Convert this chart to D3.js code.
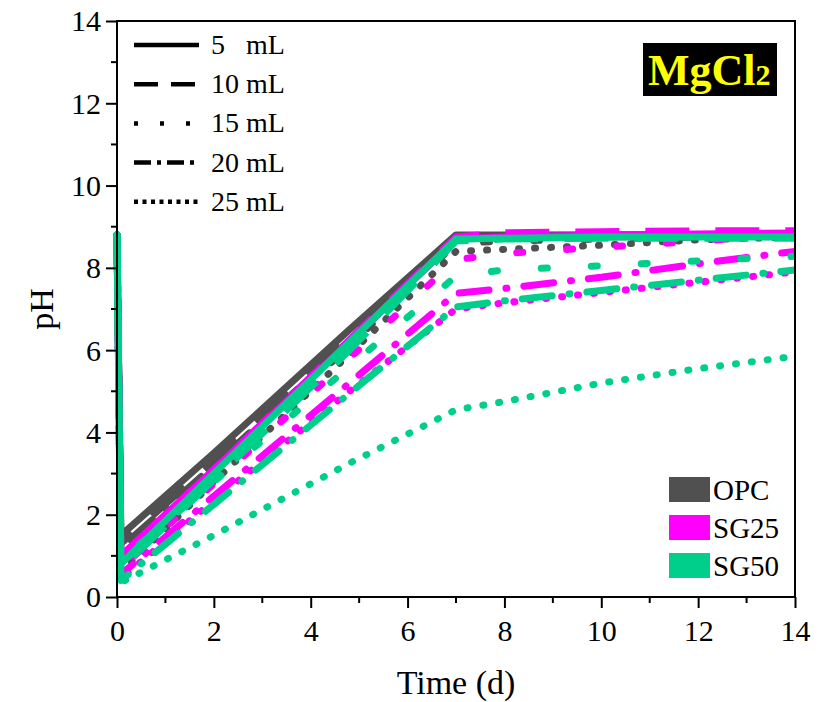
<!DOCTYPE html>
<html>
<head>
<meta charset="utf-8">
<script src="https://cdn.jsdelivr.net/npm/d3@7"></script>
<style>
  html, body { margin: 0; padding: 0; background: #fff; }
  svg { display: block; }
  text { font-family: "Liberation Serif", "Times New Roman", serif; fill: #000; }
</style>
</head>
<body>
<svg id="chart" width="825" height="702"></svg>
<script>
// Sampling times (days)
const times = [0, 0.08, 2, 4.8, 7, 8, 10, 12, 14];

// Binder types and solution volumes
const binders = ["OPC", "SG25", "SG50"];
const volumes = ["5   mL", "10 mL", "15 mL", "20 mL", "25 mL"];

// pH readings per binder, one row per volume (5, 10, 15, 20, 25 mL)
const phOPC = [
  [8.8, 1.5, 3.5, 6.5, 8.8, 8.8, 8.8, 8.8, 8.8],
  [8.8, 1.3, 3.3, 6.3, 8.75, 8.78, 8.8, 8.8, 8.8],
  [8.8, 1.1, 3.1, 6.1, 8.6, 8.65, 8.7, 8.75, 8.8],
  [8.8, 1.2, 3.2, 6.2, 8.7, 8.72, 8.75, 8.78, 8.8],
  [8.8, 0.6, 2.8, 5.9, 8.4, 8.45, 8.55, 8.68, 8.75]
];
const phSG25 = [
  [8.8, 1.0, 3.1, 6.2, 8.7, 8.75, 8.8, 8.82, 8.85],
  [8.8, 0.9, 3.1, 6.25, 8.75, 8.85, 8.88, 8.9, 8.9],
  [8.8, 0.7, 2.75, 5.8, 8.2, 8.35, 8.5, 8.65, 8.8],
  [8.8, 0.55, 2.45, 5.2, 7.38, 7.5, 7.77, 8.1, 8.4],
  [8.8, 0.45, 2.35, 5.0, 7.0, 7.15, 7.4, 7.65, 7.9]
];
const phSG50 = [
  [8.8, 0.8, 3.0, 6.2, 8.7, 8.72, 8.75, 8.75, 8.75],
  [8.8, 0.7, 2.85, 6.0, 8.65, 8.7, 8.72, 8.72, 8.72],
  [8.8, 0.9, 2.8, 5.6, 7.8, 7.95, 8.05, 8.17, 8.28],
  [8.8, 0.4, 2.25, 4.95, 7.05, 7.2, 7.45, 7.7, 7.95],
  [8.8, 0.35, 1.5, 3.25, 4.55, 4.75, 5.2, 5.55, 5.85]
];

const xTicks = [0, 2, 4, 6, 8, 10, 12, 14];
const yTicks = [0, 2, 4, 6, 8, 10, 12, 14];

// Styling
const colors = { OPC: "#505050", SG25: "#ff00ff", SG50: "#00cf8c" };
const dashStyles = [
  { dash: null, cap: "butt" },
  { dash: "44,26", cap: "butt" },
  { dash: "6,44", cap: "round" },
  { dash: "30,17,1,17", cap: "round" },
  { dash: "1,15", cap: "round" }
];
const legendDashStyles = [null, "24,13", "4,22", "17,6,4,6", "4,4.5"];

const svg = d3.select("#chart");
const W = 825, H = 702;
const margin = { left: 117, top: 21, right: 30, bottom: 105 };
const innerW = W - margin.left - margin.right;
const innerH = H - margin.top - margin.bottom;

const x = d3.scaleLinear().domain([0, 14]).range([margin.left, margin.left + innerW]);
const y = d3.scaleLinear().domain([0, 14]).range([margin.top + innerH, margin.top]);

svg.append("clipPath").attr("id", "plotclip")
  .append("rect")
  .attr("x", margin.left - 4).attr("y", margin.top)
  .attr("width", innerW + 4).attr("height", innerH);

// Data lines: grey first, then magenta, green on top
const line = d3.line().x((d, i) => x(times[i])).y(d => y(d));
const seriesSets = [["OPC", phOPC], ["SG25", phSG25], ["SG50", phSG50]];
const gLines = svg.append("g").attr("clip-path", "url(#plotclip)");
seriesSets.forEach(([name, rows]) => {
  rows.forEach((vals, k) => {
    const st = dashStyles[k];
    gLines.append("path")
      .datum(vals)
      .attr("d", line)
      .attr("fill", "none")
      .attr("stroke", colors[name])
      .attr("stroke-width", 7)
      .attr("stroke-linejoin", "round")
      .attr("stroke-linecap", st.cap)
      .attr("stroke-dasharray", st.dash);
  });
});

// Axes
const xAxis = d3.axisBottom(x).tickValues(xTicks).tickSize(11).tickPadding(6).tickFormat(d3.format("d"));
const yAxis = d3.axisLeft(y).tickValues(yTicks).tickSize(11).tickPadding(5).tickFormat(d3.format("d"));

const gx = svg.append("g").attr("transform", `translate(0,${margin.top + innerH})`).call(xAxis);
const gy = svg.append("g").attr("transform", `translate(${margin.left},0)`).call(yAxis);

// Minor ticks
const minorX = d3.range(1, 14, 2);
const minorY = d3.range(1, 14, 2);
gx.selectAll(".minor").data(minorX).enter().append("line")
  .attr("x1", d => x(d)).attr("x2", d => x(d)).attr("y1", 0).attr("y2", 6)
  .attr("stroke", "#000").attr("stroke-width", 2);
gy.selectAll(".minor").data(minorY).enter().append("line")
  .attr("y1", d => y(d)).attr("y2", d => y(d)).attr("x1", 0).attr("x2", -6)
  .attr("stroke", "#000").attr("stroke-width", 2);

[gx, gy].forEach(g => {
  g.select(".domain").remove();
  g.selectAll(".tick line").attr("stroke", "#000").attr("stroke-width", 2);
  g.selectAll(".tick text")
    .style("font-family", "'Liberation Serif', 'Times New Roman', serif")
    .style("font-size", "30px").attr("fill", "#000");
});
gx.selectAll(".tick text").attr("dy", "0.9em");
gy.selectAll(".tick text").attr("dy", "0.33em");

// Frame
svg.append("rect")
  .attr("x", margin.left).attr("y", margin.top)
  .attr("width", innerW).attr("height", innerH)
  .attr("fill", "none").attr("stroke", "#000").attr("stroke-width", 2);

// Axis titles
svg.append("text")
  .attr("x", x(7)).attr("y", 694)
  .attr("text-anchor", "middle")
  .style("font-size", "34px")
  .text("Time (d)");
svg.append("text")
  .attr("transform", `translate(53,${y(7)}) rotate(-90)`)
  .attr("text-anchor", "middle")
  .style("font-size", "34px")
  .text("pH");

// Line-style legend (volumes)
const gLeg = svg.append("g");
volumes.forEach((v, i) => {
  const cy = 45 + i * 39.2;
  gLeg.append("line")
    .attr("x1", 134).attr("x2", 199).attr("y1", cy).attr("y2", cy)
    .attr("stroke", "#000").attr("stroke-width", 4.5)
    .attr("stroke-dasharray", legendDashStyles[i]);
  gLeg.append("text")
    .attr("x", 211).attr("y", cy + 9)
    .attr("xml:space", "preserve")
    .style("white-space", "pre")
    .style("font-size", "28px")
    .text(v);
});

// Colour legend (binders)
const gLeg2 = svg.append("g");
binders.forEach((b, i) => {
  const top = 477 + i * 38;
  gLeg2.append("rect")
    .attr("x", 669).attr("y", top)
    .attr("width", 41).attr("height", 25)
    .attr("fill", colors[b]);
  gLeg2.append("text")
    .attr("x", 713).attr("y", top + 23)
    .style("font-size", "29px")
    .text(b);
});

// Salt label
svg.append("rect")
  .attr("x", 643).attr("y", 43).attr("width", 134).attr("height", 53)
  .attr("fill", "#000");
const salt = svg.append("text")
  .attr("x", 648).attr("y", 85)
  .style("font-size", "44px").style("font-weight", "bold")
  .attr("fill", "#ffff00");
salt.append("tspan").attr("fill", "#ffff00").text("MgCl");
salt.append("tspan").attr("fill", "#ffff00").style("font-size", "30px").text("2");
</script>
</body>
</html>
